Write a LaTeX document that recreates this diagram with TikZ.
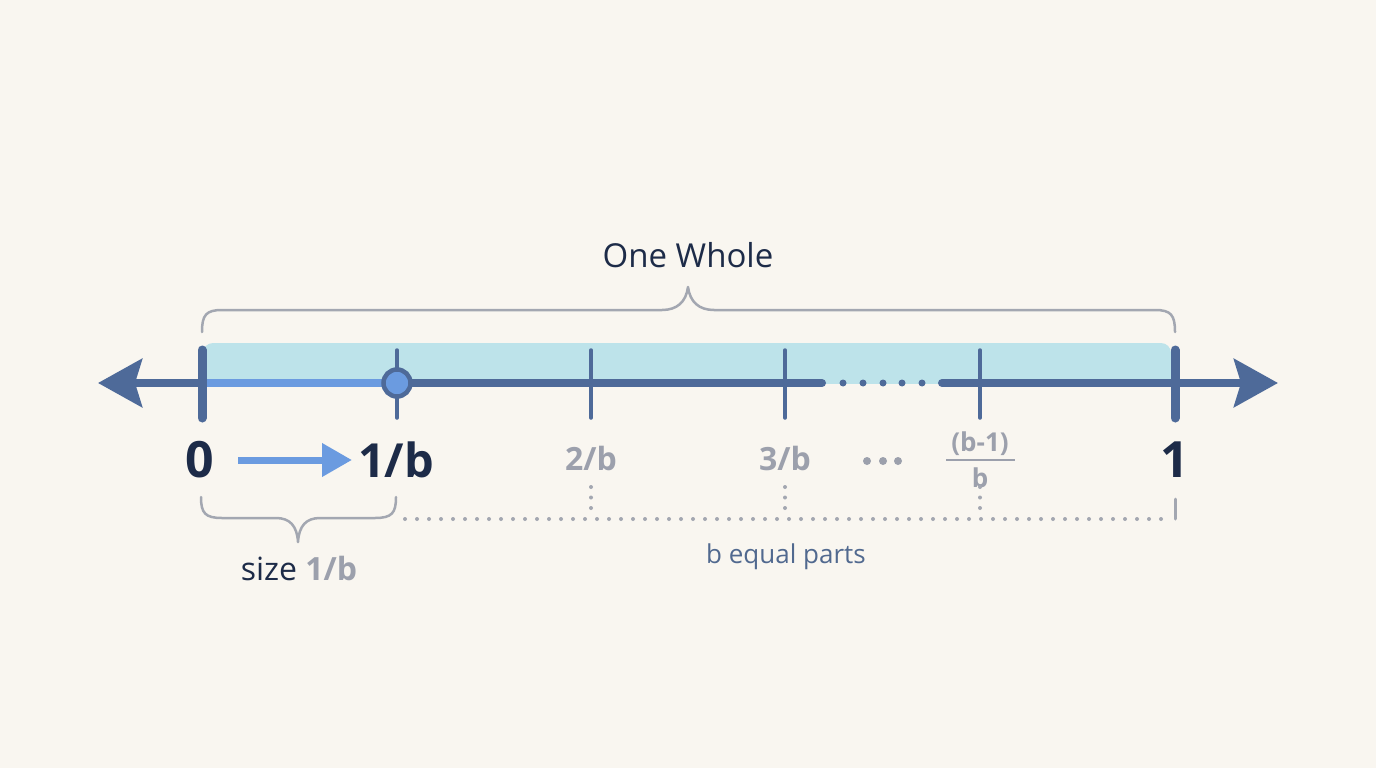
\documentclass[tikz,border=0pt]{standalone}
\usepackage{fontspec}
\setmainfont{Open Sans}
\usetikzlibrary{arrows.meta}
\definecolor{bgc}{HTML}{F9F6F0}
\definecolor{axisc}{HTML}{4E6A99}
\definecolor{lightc}{HTML}{6B9BE0}
\definecolor{hlc}{HTML}{BDE3EA}
\definecolor{navyc}{HTML}{1D2B48}
\definecolor{grayc}{HTML}{9CA0AC}
\definecolor{bracec}{HTML}{A3A7B1}
\definecolor{partc}{HTML}{51698F}
\newcommand\myfs[1]{\fontsize{#1}{#1}\selectfont}
\tikzset{
  axisln/.style={line width=8pt, draw=axisc, line cap=round},
  thintick/.style={line width=3.5pt, draw=axisc, line cap=round},
  thicktick/.style={line width=9pt, draw=axisc, line cap=round},
  bracepath/.style={line width=2.5pt, draw=bracec, line cap=round, line join=round},
  dotln/.style={line width=4pt, draw=bracec, line cap=round, dash pattern=on 0pt off 12pt},
  vdotln/.style={line width=4pt, draw=bracec, line cap=round, dash pattern=on 0pt off 10.5pt},
  lbl/.style={inner sep=0pt, anchor=base},
  axisdot/.style={circle, fill=axisc, inner sep=0pt, minimum size=7pt},
  elldot/.style={circle, fill=grayc, inner sep=0pt, minimum size=8pt},
}
\begin{document}
\begin{tikzpicture}[x=1pt,y=-1pt]
\useasboundingbox[fill=bgc] (0,0) rectangle (1376,768);
% coordinates on axis
\coordinate (p0) at (202,383);
\coordinate (p1) at (397,383);
\coordinate (p2) at (591,383);
\coordinate (p3) at (785,383);
\coordinate (pb) at (980,383);
\coordinate (pw) at (1175,383);
\coordinate (lt) at (98,383);
\coordinate (rt) at (1278,383);
\coordinate (gapL) at (822,383);
\coordinate (gapR) at (942,383);
% highlight band
\begin{scope}
\clip (0,0) rectangle (1376,383);
\fill[hlc, rounded corners=10pt] (203,343) rectangle (1171,420);
\end{scope}
% axis
\draw[axisln, line cap=butt, -{Stealth[length=44pt,width=48pt,inset=7pt]}] (p0) -- (lt);
\draw[axisln, line cap=butt, -{Stealth[length=44pt,width=48pt,inset=7pt]}] (pw) -- (rt);
\draw[axisln, draw=lightc, line cap=butt] (p0) -- (p1);
\draw[axisln] (p1) -- (gapL);
\draw[axisln] (gapR) -- (pw);
\foreach \i/\x in {1/843,2/863,3/883,4/902,5/922}
  \node[axisdot] (ad\i) at (\x,383) {};
% ticks
\draw[thicktick] (202,350) -- (202,418);
\draw[thicktick] (1175,350) -- (1175,418);
\foreach \x in {397,591,785,980}
  \draw[thintick] (\x,350) -- (\x,418);
% point at 1/b
\node[circle, fill=lightc, draw=axisc, line width=4.5pt, minimum size=27pt, inner sep=0pt] (pt) at (p1) {};
% top brace
\draw[bracepath] (202,332) .. controls (202,315) and (206,310) .. (222,310) -- (662,310)
  .. controls (677,310) and (686,302) .. (688,287)
  .. controls (690,302) and (699,310) .. (714,310) -- (1155,310)
  .. controls (1171,310) and (1175,315) .. (1175,332);
\node[lbl, text=navyc] (whole) at (688,267) {\myfs{33}One Whole};
% labels
\node[lbl, text=navyc] (l0) at (200,477) {\myfs{50}\bfseries 0};
\node[lbl, text=navyc] (l1) at (396,477) {\myfs{47}\bfseries 1/b};
\node[lbl, text=grayc] (l2) at (591,470) {\myfs{32}\bfseries 2/b};
\node[lbl, text=grayc] (l3) at (785,470) {\myfs{32}\bfseries 3/b};
\node[elldot] (e1) at (867,461) {};
\node[elldot] (e2) at (883,461) {};
\node[elldot] (e3) at (898,461) {};
\node[lbl, text=grayc] (lbt) at (980,451) {\myfs{26}\bfseries (b-1)};
\draw[line width=2.5pt, draw=grayc] (946,460) -- (1015,460);
\node[lbl, text=grayc] (lbb) at (980,487) {\myfs{26}\bfseries b};
\node[lbl, text=navyc] (lw) at (1175,477) {\myfs{50}\bfseries 1};
% blue arrow
\coordinate (ba1) at (238,460);
\coordinate (ba2) at (352,460);
\draw[line width=7pt, draw=lightc, -{Triangle[length=30pt,width=32pt]}] (ba1) -- (ba2);
% bottom brace
\draw[bracepath] (201,497) .. controls (201,513) and (205,518) .. (222,518) -- (276,518)
  .. controls (290,518) and (297,526) .. (298,542)
  .. controls (299,526) and (306,518) .. (320,518) -- (375,518)
  .. controls (392,518) and (396,513) .. (396,497);
\node[lbl] (size) at (299,580) {\myfs{32}\textcolor{navyc}{size} \textcolor{grayc}{\bfseries 1/b}};
% dotted lines
\coordinate (dl) at (405,519);
\coordinate (dr) at (1163,519);
\draw[dotln] (dl) -- (dr);
\foreach \x in {591,785,980}
  \draw[vdotln] (\x,487) -- (\x,508);
\draw[line width=3pt, draw=bracec, line cap=round] (1175,499) -- (1175,519);
\node[lbl, text=partc] (parts) at (786,563) {\myfs{26}b equal parts};
\end{tikzpicture}
\end{document}
